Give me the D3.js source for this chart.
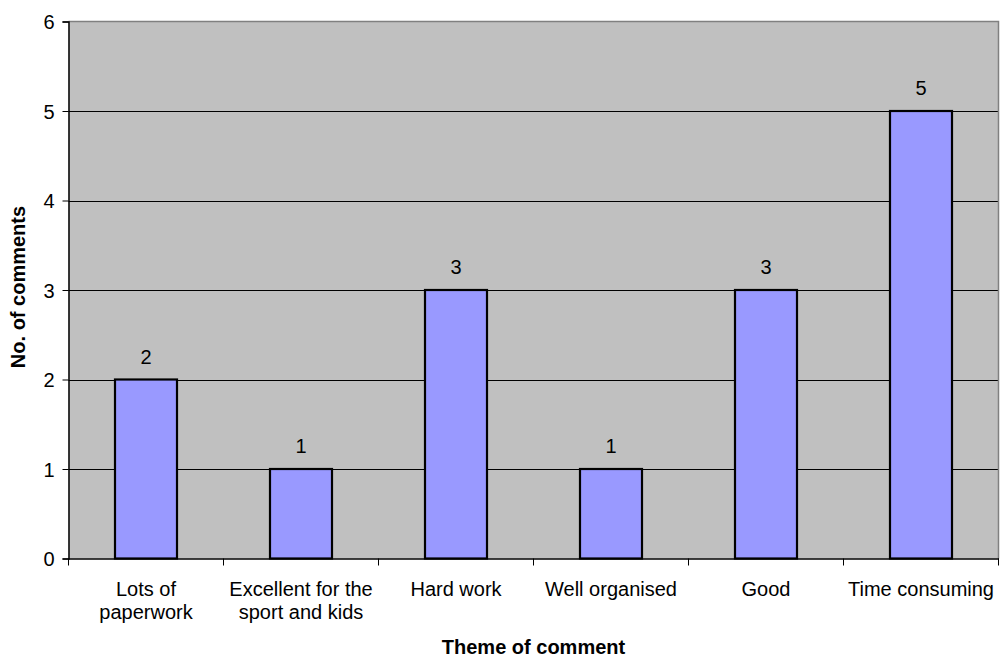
<!DOCTYPE html>
<html>
<head>
<meta charset="utf-8">
<script src="https://cdn.jsdelivr.net/npm/d3@7"></script>
<style>
  html, body { margin: 0; padding: 0; background: #ffffff; }
  svg { display: block; }
  text { font-family: "Liberation Sans", Arial, sans-serif; fill: #000; }
</style>
</head>
<body>
<svg id="chart" width="1000" height="657"></svg>
<script>
// Comment themes and how many comments fell under each
const categories = [
  ["Lots of", "paperwork"],
  ["Excellent for the", "sport and kids"],
  ["Hard work"],
  ["Well organised"],
  ["Good"],
  ["Time consuming"]
];
const counts = [2, 1, 3, 1, 3, 5];
const yTicks = [0, 1, 2, 3, 4, 5, 6];

const svg = d3.select("#chart");
const plot = { left: 68.5, right: 998.5, top: 21.5, bottom: 558.5 };
const fontSize = 20;

const x = d3.scaleBand()
  .domain(d3.range(categories.length))
  .range([plot.left, plot.right])
  .paddingInner(0.6)
  .paddingOuter(0.3);
const xOuter = d3.scaleBand()
  .domain(d3.range(categories.length))
  .range([plot.left, plot.right]);
const y = d3.scaleLinear().domain([0, 6]).range([plot.bottom, plot.top]);

// Plot background
svg.append("rect")
  .attr("x", plot.left).attr("y", plot.top)
  .attr("width", plot.right - plot.left).attr("height", plot.bottom - plot.top)
  .attr("fill", "#c0c0c0");

// Horizontal gridlines
svg.append("g")
  .selectAll("line")
  .data(yTicks.filter(d => d > 0 && d < 6))
  .join("line")
  .attr("x1", plot.left).attr("x2", plot.right)
  .attr("y1", d => Math.round(y(d)) + 0.5).attr("y2", d => Math.round(y(d)) + 0.5)
  .attr("stroke", "#000").attr("stroke-width", 1);

// Gray frame on top and right
svg.append("path")
  .attr("d", `M${plot.left},${plot.top}H${plot.right}V${plot.bottom}`)
  .attr("fill", "none").attr("stroke", "#808080").attr("stroke-width", 1.5);

// Bars
svg.append("g")
  .selectAll("rect")
  .data(counts)
  .join("rect")
  .attr("x", (d, i) => x(i))
  .attr("y", d => y(d))
  .attr("width", x.bandwidth())
  .attr("height", d => y(0) - y(d))
  .attr("fill", "#9999ff")
  .attr("stroke", "#000")
  .attr("stroke-width", 2.2);

// Value labels above bars
svg.append("g")
  .selectAll("text")
  .data(counts)
  .join("text")
  .attr("x", (d, i) => x(i) + x.bandwidth() / 2)
  .attr("y", d => y(d) - 16)
  .attr("text-anchor", "middle")
  .style("font-size", fontSize + "px")
  .text(d => d);

// Y axis
const yAxis = d3.axisLeft(y).tickValues(yTicks).tickSize(6).tickPadding(8).tickFormat(d3.format("d"));
const gy = svg.append("g").attr("transform", `translate(${plot.left},0)`).call(yAxis);
gy.select(".domain").attr("stroke", "#000").attr("stroke-width", 1.5);
gy.selectAll(".tick line").attr("stroke", "#000");
gy.selectAll(".tick text")
  .style("font-size", fontSize + "px")
  .style("font-family", "'Liberation Sans', Arial, sans-serif")
  .attr("dy", "0.35em");

// X axis: ticks sit on category boundaries
const xAxis = d3.axisBottom(xOuter).tickSize(0).tickFormat("");
const gx = svg.append("g").attr("transform", `translate(0,${plot.bottom})`).call(xAxis);
gx.select(".domain").attr("stroke", "#000").attr("stroke-width", 1.5);
gx.selectAll(".tick").remove();
gx.selectAll(".boundary")
  .data(d3.range(categories.length + 1))
  .join("line")
  .attr("class", "boundary")
  .attr("x1", i => i < categories.length ? xOuter(i) : plot.right)
  .attr("x2", i => i < categories.length ? xOuter(i) : plot.right)
  .attr("y1", 0).attr("y2", 7)
  .attr("stroke", "#000");

// Category labels
const catLabels = svg.append("g")
  .selectAll("text")
  .data(categories)
  .join("text")
  .attr("text-anchor", "middle")
  .style("font-size", fontSize + "px")
  .attr("transform", (d, i) => `translate(${xOuter(i) + xOuter.bandwidth() / 2},595.5)`);
catLabels.selectAll("tspan")
  .data(d => d)
  .join("tspan")
  .attr("x", 0)
  .attr("y", (d, j) => j * 23)
  .text(d => d);

// Axis titles
svg.append("text")
  .attr("x", (plot.left + plot.right) / 2)
  .attr("y", 654)
  .attr("text-anchor", "middle")
  .style("font-size", fontSize + "px")
  .style("font-weight", "bold")
  .text("Theme of comment");

svg.append("text")
  .attr("transform", `translate(25,${(plot.top + plot.bottom) / 2 - 3}) rotate(-90)`)
  .attr("text-anchor", "middle")
  .style("font-size", fontSize + "px")
  .style("font-weight", "bold")
  .text("No. of comments");
</script>
</body>
</html>
